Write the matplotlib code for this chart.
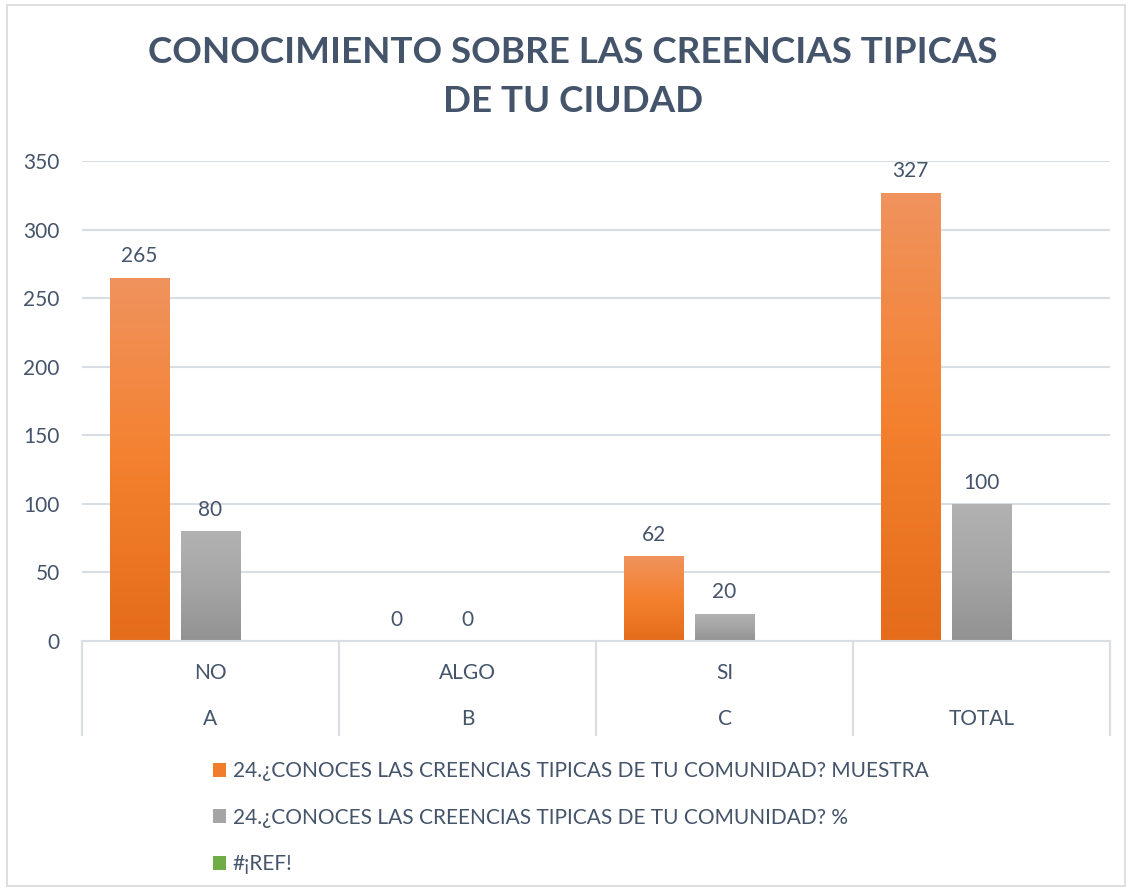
import numpy as np
import matplotlib

matplotlib.use("Agg")
import matplotlib.pyplot as plt
from matplotlib.colors import LinearSegmentedColormap
from matplotlib.patches import Patch, Rectangle

# data
answers = ["NO", "ALGO", "SI", ""]
letters = ["A", "B", "C", "TOTAL"]
muestra = [265, 0, 62, 327]
porcentaje = [80, 0, 20, 100]
ref_err = [np.nan, np.nan, np.nan, np.nan]
series_names = [
    "24.¿CONOCES LAS CREENCIAS TIPICAS DE TU COMUNIDAD? MUESTRA",
    "24.¿CONOCES LAS CREENCIAS TIPICAS DE TU COMUNIDAD? %",
    "#¡REF!",
]

TEXT = "#44546A"
GRID = "#D9DEE5"
FONT = ["Lato", "DejaVu Sans"]
plt.rcParams["font.family"] = FONT

GRADS = [
    LinearSegmentedColormap.from_list("o", ["#E46C1A", "#F4812F", "#F0935E"]),
    LinearSegmentedColormap.from_list("g", ["#929292", "#A5A5A5", "#B2B2B2"]),
    LinearSegmentedColormap.from_list("n", ["#5E9A38", "#70AD47", "#8BC168"]),
]
SOLID = ["#F07C2C", "#A5A5A5", "#70AD47"]

fig = plt.figure(figsize=(11.32, 8.91), dpi=100)
fig.patches.append(Rectangle((0.006, 0.006), 0.988, 0.988, transform=fig.transFigure,
                             fill=False, ec="#D9D9D9", lw=1.2))
ax = fig.add_axes([0.0724, 0.2806, 0.9082, 0.5387])

x = np.arange(len(letters))
width = 0.23
offs = [-0.276, 0.0, 0.276]
grad = np.linspace(0, 1, 256).reshape(-1, 1)
for vals, off, cmap in zip([muestra, porcentaje, ref_err], offs, GRADS):
    bars = ax.bar(x + off, vals, width, color="none", zorder=2)
    for b, v in zip(bars, vals):
        if np.isnan(v):
            continue
        if v > 0:
            im = ax.imshow(grad, cmap=cmap, origin="lower", aspect="auto", zorder=2,
                           extent=[b.get_x(), b.get_x() + b.get_width(), 0, v])
            im.set_clip_path(b)
        ax.annotate(f"{v:g}", (b.get_x() + b.get_width() / 2, v), xytext=(0, 8),
                    textcoords="offset points", ha="center", va="bottom",
                    fontsize=15, color=TEXT)

ax.set_xlim(-0.5, len(letters) - 0.5)
ax.set_ylim(0, 350)
ax.set_yticks(range(0, 351, 50))
ax.yaxis.grid(True, color=GRID, lw=1.5)
ax.set_axisbelow(True)
for s in ax.spines.values():
    s.set_visible(False)
ax.tick_params(axis="y", length=0, labelsize=15, labelcolor=TEXT, pad=16)
ax.set_xticks([])

# multi-level category axis
tr = ax.get_xaxis_transform()
ax.plot([-0.5, len(letters) - 0.5], [0, 0], transform=tr, color=GRID, lw=1.5, clip_on=False)
for xb in np.arange(-0.5, len(letters), 1.0):
    ax.plot([xb, xb], [0, -0.196], transform=tr, color=GRID, lw=1.5, clip_on=False)
for xi, a, l in zip(x, answers, letters):
    ax.text(xi, -0.066, a, transform=tr, ha="center", va="center", fontsize=15, color=TEXT)
    ax.text(xi, -0.162, l, transform=tr, ha="center", va="center", fontsize=15, color=TEXT)

fig.text(0.506, 0.9136, "CONOCIMIENTO SOBRE LAS CREENCIAS TIPICAS\nDE TU CIUDAD",
         ha="center", va="center", fontsize=26.5, fontweight="bold", color=TEXT,
         linespacing=1.62)

handles = [Patch(fc=c, ec="none") for c in SOLID]
fig.legend(handles, series_names, loc="upper left", bbox_to_anchor=(0.188, 0.146),
           frameon=False, fontsize=15, labelcolor=TEXT, handlelength=0.65,
           handleheight=0.65, handletextpad=0.3, labelspacing=1.28, borderpad=0,
           borderaxespad=0)

fig.savefig("out.png", dpi=100)
